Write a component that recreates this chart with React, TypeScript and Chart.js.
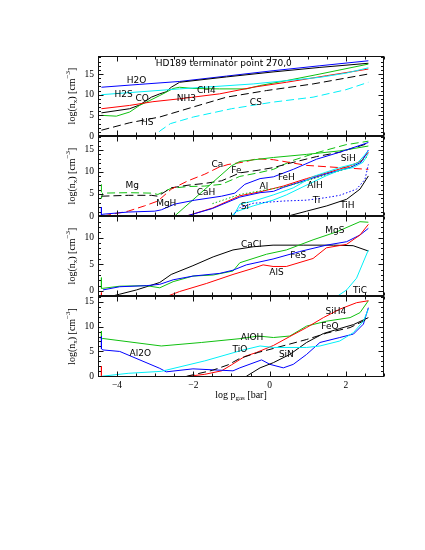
import React, { useEffect, useRef } from "react";
import { Chart, registerables } from "chart.js";
Chart.register(...registerables);

// ---------- colours ----------
const BLUE = "#0000ff";
const RED = "#ff0000";
const GREEN = "#10c010";
const CYAN = "#00f0f8";
const BLACK = "#000000";
const DASH = [8, 4];
const DOT = [1.5, 2];

// ---------- axes ----------
const X_MIN = -4.5;
const X_MAX = 3.0;
const X_TICK_LABELS = [-4, -2, 0, 2];

// ---------- panel 1 ----------
const h2oX = [-4.41, -3.4, -2.36, -1.13, 0.09, 1.32, 2.59];
const h2oY = [11.8, 12.5, 13.2, 14.5, 15.8, 17.0, 18.2];
const coX = [-4.41, -3.67, -3.41, -3.1, -2.88, -2.71, -2.58, -2.36, -1.13, 0.09, 1.32, 2.59];
const coY = [5.6, 6.6, 7.5, 9.4, 10.2, 10.7, 11.8, 13.0, 14.3, 15.5, 16.6, 17.6];
const h2sX = [-4.41, -2.36, -0.43, 1.32, 2.0, 2.59];
const h2sY = [10.0, 11.4, 12.6, 14.2, 15.2, 16.5];
const ch4X = [-4.41, -4.02, -3.67, -3.41, -3.14, -2.88, -2.71, -2.53, -2.36, -2.01, -1.31, -0.61, -0.26, 0.44, 1.32, 2.59];
const ch4Y = [5.0, 4.8, 5.8, 7.4, 8.6, 9.8, 10.6, 11.5, 11.8, 11.5, 11.4, 11.4, 12.2, 13.4, 15.0, 17.4];
const nh3X = [-4.41, -3.67, -3.06, -2.36, -1.31, -0.43, 0.44, 1.5, 2.59];
const nh3Y = [6.6, 7.4, 8.3, 9.0, 10.2, 11.8, 13.0, 14.6, 16.2];
const hsX = [-4.41, -3.67, -2.88, -2.01, -1.13, -0.08, 1.14, 2.59];
const hsY = [1.4, 3.2, 4.6, 7.0, 9.4, 11.0, 12.6, 15.0];
const csX = [-3.15, -2.97, -2.88, -2.6, -2.3, -2.0, -1.0, 0.09, 1.14, 2.0, 2.59];
const csY = [0, 0, 1.2, 3.0, 3.8, 4.6, 6.6, 8.2, 9.4, 11.2, 13.0];

// ---------- panel 2 ----------
const mgX = [-4.41, -4.41, -4.38, -3.7, -3.1, -2.93, -2.58, -2.14, -1.7, -1.26, -0.78, -0.3, 0.1, 0.6, 1.2, 2.0, 2.59];
const mgY = [7.2, 4.0, 5.2, 5.3, 5.2, 4.9, 6.3, 6.7, 6.8, 7.2, 9.0, 9.8, 10.6, 12.6, 14.3, 16.2, 17.0];
const feX = [-4.41, -3.7, -3.1, -2.93, -2.58, -2.14, -1.7, -1.26, -0.78, -0.3, 0.1, 0.53, 1.23, 1.84, 2.59];
const feY = [4.5, 4.7, 4.7, 4.5, 6.4, 7.0, 7.4, 8.0, 9.8, 10.4, 11.0, 12.0, 13.5, 14.5, 16.5];
const caX = [-4.37, -3.71, -3.28, -2.93, -2.58, -2.14, -1.7, -1.35, -1.09, -0.65, -0.34, 0.1, 0.97, 1.84, 2.59];
const caY = [0, 1.1, 2.3, 3.4, 6.1, 8.0, 9.5, 11.0, 11.7, 12.3, 13.0, 12.8, 11.5, 11.0, 10.6];
const cahX = [-2.49, -1.0, -0.78, 0.1, 0.97, 1.84, 2.59];
const cahY = [0, 11.4, 12.4, 13.3, 14.0, 14.8, 15.9];
const mghX = [-4.41, -4.41, -4.38, -3.71, -3.01, -2.84, -2.49, -1.96, -1.26, -0.91, -0.65, -0.25, 0.1, 0.62, 1.23, 1.84, 2.59];
const mghY = [2.0, 0.0, 0.4, 0.9, 1.1, 1.4, 2.7, 3.6, 4.5, 5.2, 7.2, 8.5, 8.9, 10.6, 12.9, 14.5, 16.7];
const alX = [-2.18, -1.5, -0.78, -0.25, 0.36, 0.97, 1.5, 2.11, 2.4, 2.59];
const alY = [0, 1.8, 4.6, 5.5, 6.8, 8.5, 9.8, 11.4, 12.5, 14.5];
const fehX = [-2.18, -1.5, -0.78, -0.25, 0.1, 0.36, 0.97, 1.5, 2.11, 2.4, 2.59];
const fehY = [0, 1.7, 4.3, 5.3, 5.6, 6.5, 8.2, 9.6, 11.0, 12.2, 15.0];
const siX = [-1.0, -0.87, -0.43, 0.09, 0.44, 1.06, 1.5, 1.84, 2.19, 2.45, 2.59];
const siY = [0, 1.0, 2.3, 3.6, 4.8, 7.4, 9.2, 10.4, 11.0, 12.2, 14.2];
const sihX = [-0.95, -0.78, -0.34, 0.1, 0.62, 1.15, 1.84, 2.3, 2.59];
const sihY = [0, 2.7, 3.6, 4.8, 6.4, 9.0, 11.0, 12.0, 14.8];
const alhX = [-1.5, -0.78, -0.25, 0.36, 0.97, 1.5, 2.11, 2.59];
const alhY = [2.8, 4.9, 5.7, 6.6, 8.0, 9.4, 11.0, 13.6];
const tiX = [-0.98, -0.78, -0.43, -0.25, 0.36, 0.97, 1.5, 1.84, 2.28, 2.5, 2.59];
const tiY = [0, 1.9, 2.9, 3.0, 3.4, 3.6, 4.2, 4.7, 6.1, 8.3, 11.7];
const tihX = [0.49, 0.97, 1.5, 2.02, 2.37, 2.59];
const tihY = [0, 1.1, 2.3, 3.8, 6.1, 9.1];

// ---------- panel 3 ----------
const caclX = [-4.19, -3.93, -3.49, -2.88, -2.58, -2.01, -1.48, -0.96, -0.43, 0.09, 0.88, 1.67, 2.19, 2.59];
const caclY = [-1.06, -0.6, 0.2, 1.6, 3.1, 4.75, 6.4, 7.7, 8.3, 8.6, 8.6, 8.6, 8.5, 7.5];
const mgsX = [-4.41, -4.41, -4.37, -3.93, -3.23, -2.88, -2.53, -2.01, -1.48, -0.96, -0.78, -0.08, 0.44, 1.14, 1.76, 2.37, 2.59];
const mgsY = [2.5, 0.5, 0.5, 0.9, 1.0, 0.6, 1.75, 2.8, 3.0, 3.75, 5.3, 6.9, 7.7, 9.6, 11.1, 13.0, 12.9];
const fesX = [-4.37, -3.93, -3.23, -2.88, -2.53, -2.01, -1.31, -0.96, -0.61, 0.09, 0.79, 1.49, 2.02, 2.37, 2.59];
const fesY = [0.2, 0.8, 1.0, 1.25, 2.1, 2.8, 3.3, 3.9, 4.9, 6.0, 7.4, 8.6, 9.25, 10.5, 11.75];
const alsX = [-4.41, -4.41, -2.71, -2.36, -1.66, -0.96, -0.43, -0.17, 0.09, 0.44, 1.14, 1.49, 2.02, 2.37, 2.59];
const alsY = [-0.3, -2, -1.06, -0.1, 1.4, 3.1, 4.25, 4.9, 4.6, 4.6, 6.1, 8.1, 8.75, 10.5, 12.5];
const ticX = [1.76, 2.02, 2.28, 2.59];
const ticY = [-1.06, 0.2, 2.4, 7.7];

// ---------- panel 4 ----------
const aloh_X = [-4.41, -4.41, -4.37, -2.84, -1.79, -0.74, -0.3, 0.1, 0.53, 0.97, 1.5, 2.11, 2.37, 2.59];
const aloh_Y = [9.1, 7.5, 7.6, 6.1, 6.8, 7.6, 8.1, 7.8, 8.1, 10.1, 11.1, 11.8, 12.8, 15.2];
const al2oX = [-4.41, -4.41, -4.37, -3.93, -2.88, -2.71, -2.01, -0.96, -0.78, -0.21, 0.01, 0.36, 0.62, 0.97, 1.32, 1.84, 2.2, 2.46, 2.59];
const al2oY = [8.0, 5.5, 5.3, 5.0, 1.6, 0.9, 1.5, 1.1, 1.7, 3.3, 2.4, 1.7, 2.4, 4.4, 6.8, 7.8, 8.5, 10.5, 13.8];
const tioX = [-4.41, -3.71, -2.84, -1.7, -0.74, -0.25, 0.1, 0.97, 1.32, 1.84, 2.2, 2.46, 2.59];
const tioY = [0, 0.6, 1.0, 3.1, 5.2, 6.1, 5.8, 5.8, 6.1, 7.1, 8.8, 11.1, 13.5];
const sih4X = [-4.41, -4.41, -2.3, -2.14, -1.7, -1.26, -1.0, -0.65, -0.34, 0.1, 0.53, 0.97, 1.41, 1.84, 2.28, 2.59];
const sih4Y = [2.0, -1, -0.5, 0, 0.4, 1.1, 2.3, 4.0, 4.8, 6.2, 8.0, 9.8, 11.8, 13.5, 14.8, 15.2];
const feoX = [-2.18, -1.5, -1.09, -0.78, -0.3, 0.1, 0.97, 1.5, 2.11, 2.59];
const feoY = [0, 1.2, 2.3, 3.6, 4.8, 5.6, 7.4, 8.7, 9.8, 11.6];
const sinX = [-0.61, -0.25, 0.1, 0.53, 0.97, 1.41, 1.84, 2.2, 2.59];
const sinY = [0, 1.7, 2.75, 4.4, 6.8, 8.6, 9.6, 10.4, 11.8];

type Series = { xs: number[]; ys: number[]; color: string; dash?: number[] };
type Label = { text: string; x: number; y: number };
type PanelDef = {
  yMin: number;
  yMax: number;
  yTicks: number[];
  series: Series[];
  labels: Label[];
  title?: string;
  xAxis?: boolean;
};

const PANELS: PanelDef[] = [
  {
    yMin: 0,
    yMax: 19.36,
    yTicks: [0, 5, 10, 15],
    title: "HD189 terminator point 270,0",
    series: [
      { xs: h2sX, ys: h2sY, color: CYAN },
      { xs: csX, ys: csY, color: CYAN, dash: DASH },
      { xs: hsX, ys: hsY, color: BLACK, dash: DASH },
      { xs: nh3X, ys: nh3Y, color: RED },
      { xs: ch4X, ys: ch4Y, color: GREEN },
      { xs: coX, ys: coY, color: BLACK },
      { xs: h2oX, ys: h2oY, color: BLUE },
    ],
    labels: [
      { text: "H2O", x: -3.49, y: 13.4 },
      { text: "H2S", x: -3.83, y: 10.1 },
      { text: "CO", x: -3.34, y: 9.1 },
      { text: "CH4", x: -1.66, y: 11.0 },
      { text: "NH3", x: -2.18, y: 9.0 },
      { text: "HS", x: -3.21, y: 3.2 },
      { text: "CS", x: -0.36, y: 8.0 },
    ],
  },
  {
    yMin: 0,
    yMax: 18.18,
    yTicks: [0, 5, 10, 15],
    series: [
      { xs: tihX, ys: tihY, color: BLACK },
      { xs: tiX, ys: tiY, color: BLUE, dash: DOT },
      { xs: siX, ys: siY, color: CYAN },
      { xs: sihX, ys: sihY, color: CYAN },
      { xs: alhX, ys: alhY, color: GREEN, dash: DOT },
      { xs: fehX, ys: fehY, color: BLUE },
      { xs: alX, ys: alY, color: RED },
      { xs: mghX, ys: mghY, color: BLUE },
      { xs: cahX, ys: cahY, color: GREEN },
      { xs: caX, ys: caY, color: RED, dash: DASH },
      { xs: feX, ys: feY, color: BLACK, dash: DASH },
      { xs: mgX, ys: mgY, color: GREEN, dash: DASH },
    ],
    labels: [
      { text: "Mg", x: -3.6, y: 6.9 },
      { text: "Ca", x: -1.37, y: 11.6 },
      { text: "Fe", x: -0.87, y: 10.2 },
      { text: "CaH", x: -1.67, y: 5.4 },
      { text: "MgH", x: -2.71, y: 2.7 },
      { text: "Al", x: -0.15, y: 6.7 },
      { text: "FeH", x: 0.44, y: 8.6 },
      { text: "AlH", x: 1.19, y: 6.8 },
      { text: "Si", x: -0.65, y: 2.1 },
      { text: "Ti", x: 1.23, y: 3.6 },
      { text: "TiH", x: 2.04, y: 2.3 },
      { text: "SiH", x: 2.06, y: 13.1 },
    ],
  },
  {
    yMin: -0.94,
    yMax: 14.07,
    yTicks: [0, 5, 10],
    series: [
      { xs: ticX, ys: ticY, color: CYAN },
      { xs: alsX, ys: alsY, color: RED },
      { xs: fesX, ys: fesY, color: BLUE },
      { xs: mgsX, ys: mgsY, color: GREEN },
      { xs: caclX, ys: caclY, color: BLACK },
    ],
    labels: [
      { text: "CaCl", x: -0.48, y: 8.75 },
      { text: "MgS", x: 1.71, y: 11.25 },
      { text: "FeS", x: 0.75, y: 6.6 },
      { text: "AlS", x: 0.18, y: 3.5 },
      { text: "TiC", x: 2.37, y: 0.06 },
    ],
  },
  {
    yMin: -0.14,
    yMax: 16.15,
    yTicks: [0, 5, 10, 15],
    xAxis: true,
    series: [
      { xs: tioX, ys: tioY, color: CYAN },
      { xs: sinX, ys: sinY, color: BLACK },
      { xs: feoX, ys: feoY, color: BLACK, dash: DASH },
      { xs: al2oX, ys: al2oY, color: BLUE },
      { xs: sih4X, ys: sih4Y, color: RED },
      { xs: aloh_X, ys: aloh_Y, color: GREEN },
    ],
    labels: [
      { text: "AlOH", x: -0.46, y: 7.8 },
      { text: "Al2O", x: -3.39, y: 4.6 },
      { text: "TiO", x: -0.78, y: 5.3 },
      { text: "SiN", x: 0.44, y: 4.3 },
      { text: "SiH4", x: 1.74, y: 13.1 },
      { text: "FeO", x: 1.58, y: 10.0 },
    ],
  },
];

// ---------- layout ----------
const W = 425;
const PLOT_LEFT = 98;
const PLOT_RIGHT = 384;
const PANEL_TOPS = [56, 136, 216, 296];
const PANEL_BOTTOMS = [136, 216, 296, 377];
const PAD = 12;
const X_AXIS_H = 30;
const Y_TITLE_X = 72;

const SANS = "'DejaVu Sans', sans-serif";
const SERIF = "'Liberation Serif', 'DejaVu Serif', serif";

type Part = { t: string; sub?: boolean; sup?: boolean };

function drawRich(ctx: CanvasRenderingContext2D, parts: Part[], size: number, family: string) {
  const small = size * 0.7;
  const widths = parts.map((p) => {
    ctx.font = `${p.sub || p.sup ? small : size}px ${family}`;
    return ctx.measureText(p.t).width;
  });
  const total = widths.reduce((a, b) => a + b, 0);
  let x = -total / 2;
  ctx.textBaseline = "middle";
  ctx.textAlign = "left";
  parts.forEach((p, i) => {
    ctx.font = `${p.sub || p.sup ? small : size}px ${family}`;
    const dy = p.sub ? size * 0.3 : p.sup ? -size * 0.35 : 0;
    ctx.fillText(p.t, x, dy);
    x += widths[i];
  });
}

const minus = (v: number) => String(v).replace("-", "\u2212");

function makePlugin(def: PanelDef) {
  return {
    id: "panelDecor",
    afterDraw(chart: any) {
      const { ctx, chartArea: a, scales } = chart;
      const xs = scales.x;
      const ys = scales.y;
      ctx.save();
      // frame
      ctx.strokeStyle = "#111";
      ctx.lineWidth = 1;
      ctx.setLineDash([]);
      const L = Math.round(a.left) + 0.5;
      const R = Math.round(a.right) - 0.5;
      const T = Math.round(a.top) + 0.5;
      const B = Math.round(a.bottom) - 0.5;
      ctx.strokeRect(L, T, R - L, B - T);
      ctx.beginPath();
      // x ticks every 0.5, major every 2
      for (let v = -4.5; v <= 3.0001; v += 0.5) {
        const px = Math.round(xs.getPixelForValue(v)) + 0.5;
        const major = Math.abs(v / 2 - Math.round(v / 2)) < 1e-6;
        const len = major ? 5 : 3;
        ctx.moveTo(px, B);
        ctx.lineTo(px, B - len);
        ctx.moveTo(px, T);
        ctx.lineTo(px, T + len);
      }
      // y ticks every 1, major every 5
      for (let v = Math.ceil(def.yMin); v <= Math.floor(def.yMax); v++) {
        const py = Math.round(ys.getPixelForValue(v)) + 0.5;
        const major = v % 5 === 0;
        const len = major ? 5 : 2.5;
        ctx.moveTo(L, py);
        ctx.lineTo(L + len, py);
        ctx.moveTo(R, py);
        ctx.lineTo(R - len, py);
      }
      ctx.stroke();

      // species labels
      ctx.fillStyle = "#000";
      ctx.font = `9px ${SANS}`;
      ctx.textAlign = "center";
      ctx.textBaseline = "middle";
      def.labels.forEach((lb) => {
        ctx.fillText(lb.text, xs.getPixelForValue(lb.x), ys.getPixelForValue(lb.y));
      });
      if (def.title) {
        ctx.font = `9px ${SANS}`;
        ctx.fillText(def.title, xs.getPixelForValue(-1.2), ys.getPixelForValue(17.4));
      }

      // y-axis title
      ctx.save();
      ctx.translate(Y_TITLE_X, (a.top + a.bottom) / 2);
      ctx.rotate(-Math.PI / 2);
      drawRich(
        ctx,
        [{ t: "log(n" }, { t: "x", sub: true }, { t: ") [cm" }, { t: "\u22123", sup: true }, { t: "]" }],
        10,
        SERIF
      );
      ctx.restore();

      // x-axis title
      if (def.xAxis) {
        ctx.save();
        ctx.translate((a.left + a.right) / 2, a.bottom + 18);
        drawRich(ctx, [{ t: "log p" }, { t: "gas", sub: true }, { t: " [bar]" }], 10, SERIF);
        ctx.restore();
      }
      ctx.restore();
    },
  };
}

function Panel({ idx }: { idx: number }) {
  const ref = useRef<HTMLCanvasElement>(null);
  const def = PANELS[idx];
  const top = PANEL_TOPS[idx] - PAD;
  const panelH = PANEL_BOTTOMS[idx] - PANEL_TOPS[idx];
  const height = PAD + panelH + (def.xAxis ? X_AXIS_H : PAD);

  useEffect(() => {
    const chart = new Chart(ref.current as HTMLCanvasElement, {
      type: "line",
      data: {
        datasets: def.series.map((s) => ({
          data: s.xs.map((x, i) => ({ x, y: s.ys[i] })),
          borderColor: s.color,
          borderWidth: 1,
          borderDash: s.dash || [],
          pointRadius: 0,
          fill: false,
          tension: 0,
        })),
      },
      options: {
        animation: false,
        responsive: false,
        devicePixelRatio: 1,
        layout: {
          padding: { left: 0, right: W - PLOT_RIGHT, top: PAD, bottom: def.xAxis ? 0 : PAD },
        },
        plugins: { legend: { display: false }, tooltip: { enabled: false }, title: { display: false } },
        scales: {
          x: {
            type: "linear",
            min: X_MIN,
            max: X_MAX,
            display: !!def.xAxis,
            grid: { display: false, drawTicks: false },
            border: { display: false },
            ticks: {
              padding: 3,
              color: "#000",
              font: { family: SERIF, size: 9.5 },
              maxRotation: 0,
              callback: (v: any) => minus(Number(v)),
            },
            afterBuildTicks: (axis: any) => {
              axis.ticks = X_TICK_LABELS.map((v) => ({ value: v }));
            },
            afterFit: (axis: any) => {
              axis.height = def.xAxis ? X_AXIS_H : 0;
            },
          },
          y: {
            type: "linear",
            min: def.yMin,
            max: def.yMax,
            grid: { display: false, drawTicks: false },
            border: { display: false },
            ticks: {
              padding: 4,
              color: "#000",
              font: { family: SERIF, size: 9.5 },
              callback: (v: any) => minus(Number(v)),
            },
            afterBuildTicks: (axis: any) => {
              axis.ticks = def.yTicks.map((v) => ({ value: v }));
            },
            afterFit: (axis: any) => {
              axis.width = PLOT_LEFT;
            },
          },
        },
      },
      plugins: [makePlugin(def)],
    } as any);
    return () => chart.destroy();
  }, []);

  return (
    <canvas
      ref={ref}
      width={W}
      height={height}
      style={{ position: "absolute", left: 0, top, width: W, height }}
    />
  );
}

export default function App() {
  return (
    <div style={{ position: "absolute", left: 0, top: 0, width: W, height: 550, background: "#fff" }}>
      {PANELS.map((_, i) => (
        <Panel key={i} idx={i} />
      ))}
    </div>
  );
}
